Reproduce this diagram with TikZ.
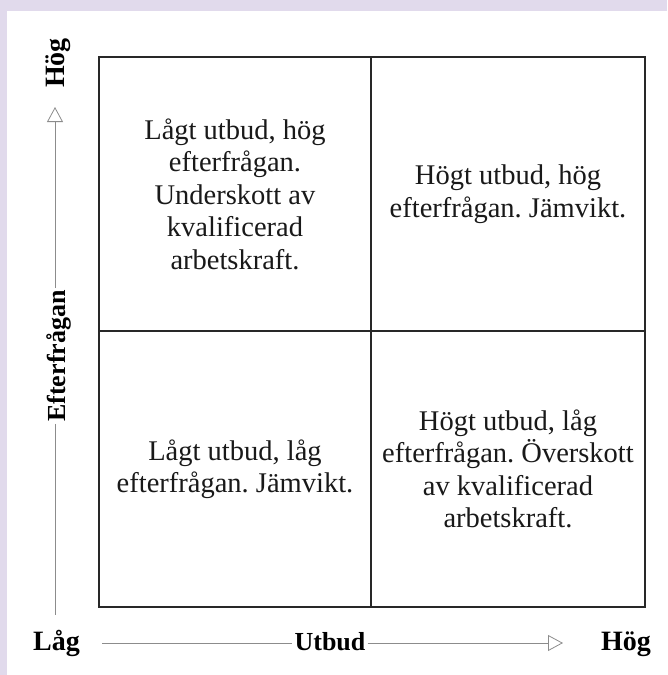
\documentclass[tikz,border=0pt]{standalone}
\usepackage{fontspec}
\setmainfont{Liberation Serif}
\usetikzlibrary{arrows.meta}
\definecolor{lav}{RGB}{225,218,236}
\definecolor{gridc}{RGB}{40,40,40}
\definecolor{axisc}{RGB}{140,140,140}
\frenchspacing
\begin{document}
\begin{tikzpicture}[x=1pt,y=-1pt,
  cellbox/.style={draw=gridc,line width=1.6pt,align=center,inner sep=0pt,
    font=\fontsize{28.5}{32.5}\selectfont,text=black!90},
  axlab/.style={font=\bfseries\fontsize{28}{30}\selectfont,inner sep=0pt},
  axname/.style={font=\bfseries\fontsize{26}{28}\selectfont,inner sep=2pt},
  axline/.style={draw=axisc,line width=0.8pt},
  opentip/.style={-{Triangle[open,length=15pt,width=16pt]}}]
\fill[lav] (0,0) rectangle (667,675);
\fill[white] (7,11) rectangle (667,675);
\useasboundingbox (0,0) rectangle (667,675);
% cells
\node[cellbox,minimum width=272pt,minimum height=274pt] (tl) at (235,194)
  {Lågt utbud, hög\\efterfrågan.\\Underskott av\\kvalificerad\\arbetskraft.};
\node[cellbox,minimum width=274pt,minimum height=274pt] (tr) at (508,194)
  {Högt utbud, hög\\efterfrågan. Jämvikt.};
\node[cellbox,minimum width=272pt,minimum height=276pt] (bl) at (235,469)
  {Lågt utbud, låg\\efterfrågan. Jämvikt.};
\node[cellbox,minimum width=274pt,minimum height=276pt] (br) at (508,469)
  {Högt utbud, låg\\efterfrågan. Överskott\\av kvalificerad\\arbetskraft.};
% vertical axis
\coordinate (ytip) at (55,107);
\coordinate (ybot) at (55,615);
\node[axname,rotate=90,anchor=base] (ef) at (65,356) {Efterfrågan};
\node[axlab,rotate=90] (hy) at (58,63) {Hög};
\draw[axline,opentip] (ef.east -| ytip) -- (ytip);
\draw[axline] (ef.west -| ytip) -- (ybot);
% horizontal axis
\node[axlab,anchor=base] (lo) at (56.5,650) {Låg};
\node[axlab,anchor=base] (hx) at (626,650) {Hög};
\node[axname,anchor=base] (ut) at (330,650) {Utbud};
\coordinate (xl) at (102,643);
\coordinate (xtip) at (563,643);
\draw[axline] (xl) -- (ut.west |- xl);
\draw[axline,opentip] (ut.east |- xl) -- (xtip);
\end{tikzpicture}
\end{document}
